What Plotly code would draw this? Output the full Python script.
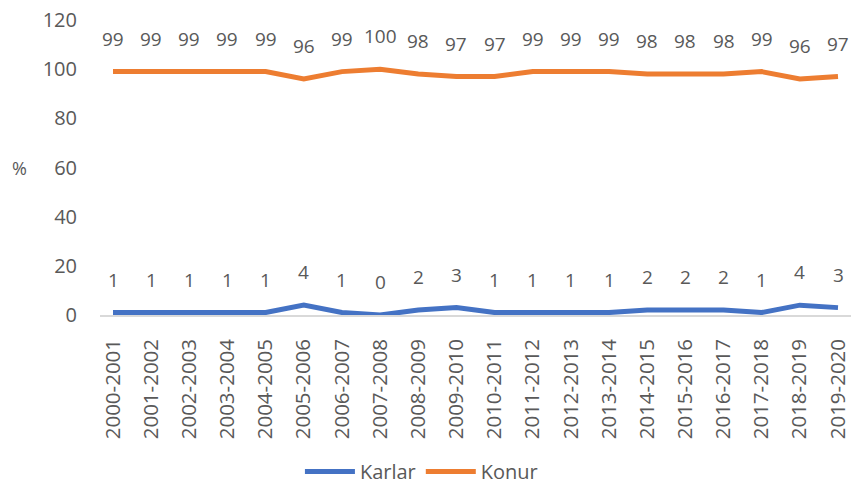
import plotly.graph_objects as go

seasons = ["2000-2001", "2001-2002", "2002-2003", "2003-2004", "2004-2005",
           "2005-2006", "2006-2007", "2007-2008", "2008-2009", "2009-2010",
           "2010-2011", "2011-2012", "2012-2013", "2013-2014", "2014-2015",
           "2015-2016", "2016-2017", "2017-2018", "2018-2019", "2019-2020"]
karlar = [1, 1, 1, 1, 1, 4, 1, 0, 2, 3, 1, 1, 1, 1, 2, 2, 2, 1, 4, 3]
konur = [99, 99, 99, 99, 99, 96, 99, 100, 98, 97, 97, 99, 99, 99, 98, 98, 98, 99, 96, 97]
y_ticks = [0, 20, 40, 60, 80, 100, 120]

FONT = "Open Sans"
GREY = "#595959"
BLUE = "#4472C4"
ORANGE = "#ED7D31"

fig = go.Figure()
fig.add_trace(go.Scatter(x=seasons, y=karlar, name="Karlar", mode="lines",
                         line=dict(color=BLUE, width=5)))
fig.add_trace(go.Scatter(x=seasons, y=konur, name="Konur", mode="lines",
                         line=dict(color=ORANGE, width=5)))

# value labels above each point
annotations = []
for series in (karlar, konur):
    for s, v in zip(seasons, series):
        annotations.append(dict(x=s, y=v, xref="x", yref="y", text=str(v),
                                showarrow=False, yshift=33,
                                font=dict(family=FONT, size=19, color=GREY)))
annotations.append(dict(x=-0.107, y=60, xref="paper", yref="y", text="%",
                        showarrow=False, xanchor="center",
                        font=dict(family=FONT, size=18, color=GREY)))

fig.update_layout(
    width=851, height=484,
    margin=dict(l=100, r=0, t=20, b=169),
    paper_bgcolor="white", plot_bgcolor="white",
    font=dict(family=FONT, size=19, color=GREY),
    showlegend=True,
    legend=dict(orientation="h", x=0.428, xanchor="center",
                yref="container", y=0.026, yanchor="middle",
                font=dict(family=FONT, size=20, color=GREY),
                itemwidth=50),
    annotations=annotations,
)
fig.update_xaxes(type="category", showgrid=False, showline=True,
                 linecolor="#D9D9D9", linewidth=1.5, ticks="",
                 tickangle=-90, tickfont=dict(family=FONT, size=20.5, color=GREY),
                 ticklabelstandoff=14, zeroline=False, automargin=False)
fig.update_yaxes(range=[0, 120], tickvals=y_ticks, showgrid=False,
                 showline=False, zeroline=False, ticks="",
                 tickfont=dict(family=FONT, size=20, color=GREY),
                 ticklabelstandoff=22, automargin=False)

fig.write_html("out.html")
